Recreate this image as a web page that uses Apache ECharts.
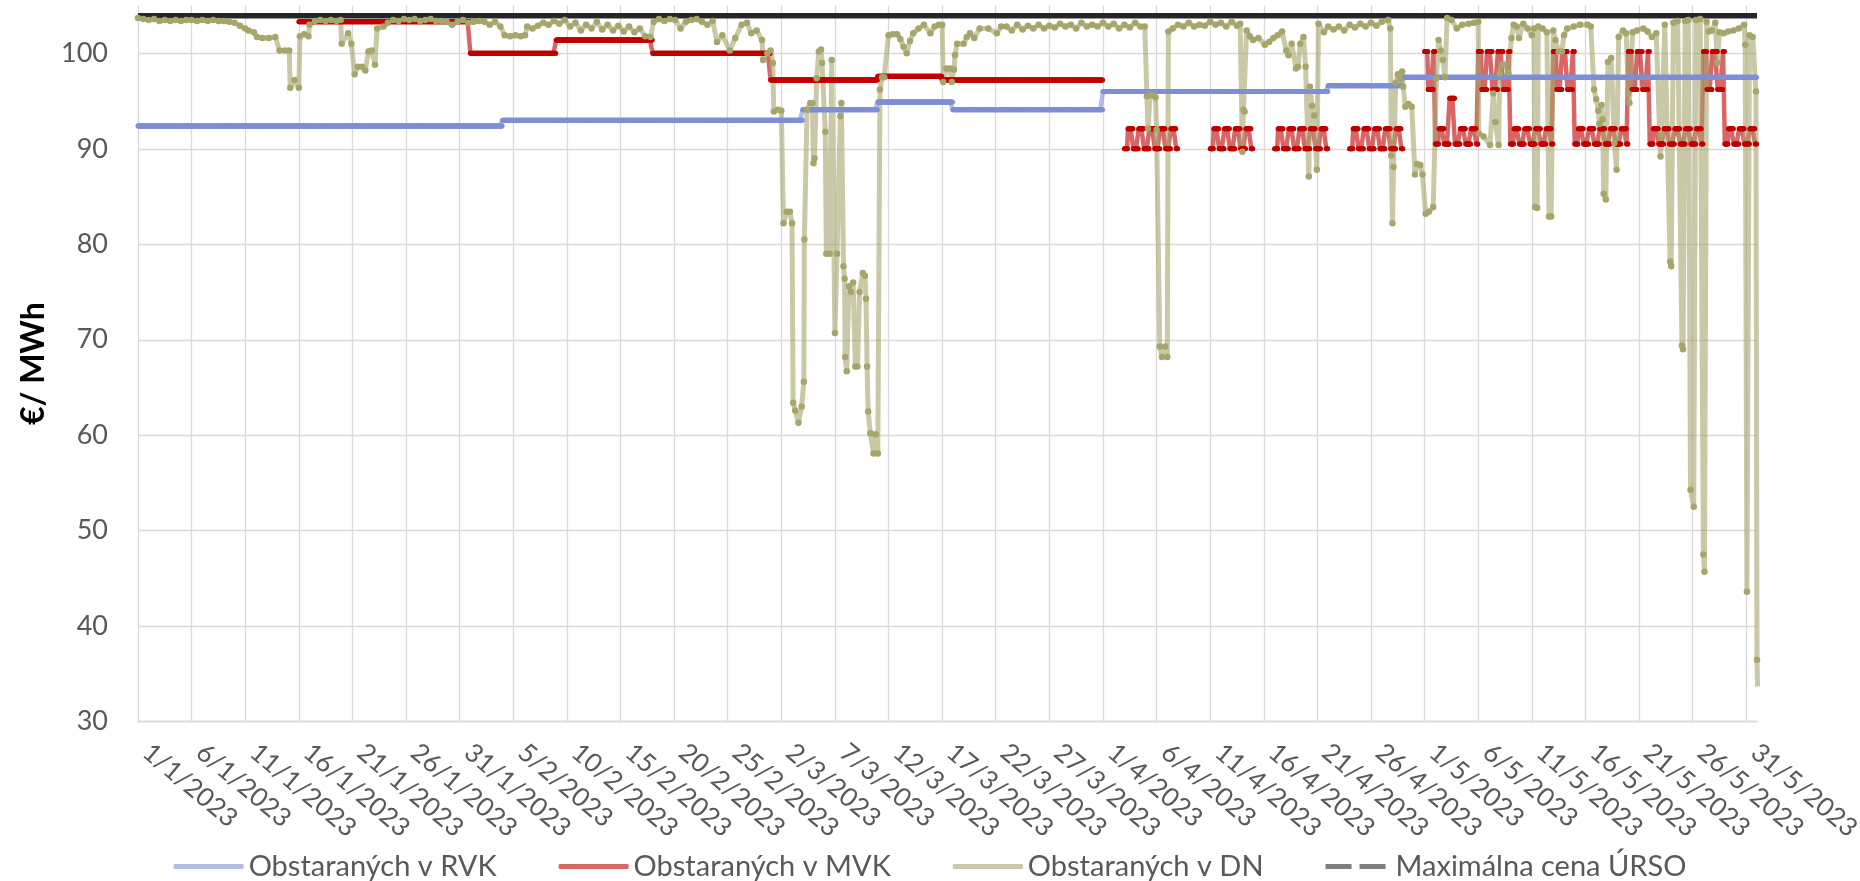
<!DOCTYPE html>
<html>
<head>
<meta charset="utf-8">
<script src="https://cdn.jsdelivr.net/npm/echarts@6/dist/echarts.min.js"></script>
<style>html,body{margin:0;padding:0;background:#fff}#c{width:1860px;height:881px}</style>
</head>
<body>
<div id="c"></div>
<script>
// x values are day offsets from 1/1/2023 (0 = 1/1/2023 00:00)
const tickLabels = ['1/1/2023','6/1/2023','11/1/2023','16/1/2023','21/1/2023','26/1/2023','31/1/2023',
  '5/2/2023','10/2/2023','15/2/2023','20/2/2023','25/2/2023','2/3/2023','7/3/2023','12/3/2023',
  '17/3/2023','22/3/2023','27/3/2023','1/4/2023','6/4/2023','11/4/2023','16/4/2023','21/4/2023',
  '26/4/2023','1/5/2023','6/5/2023','11/5/2023','16/5/2023','21/5/2023','26/5/2023','31/5/2023'];

const seriesNames = ['Obstaraných v RVK','Obstaraných v MVK','Obstaraných v DN','Maximálna cena ÚRSO'];

// RVK: [startDay, endDay, price]
const rvkLevels = [[0,34,92.4],[34,62,93.0],[62,69,94.1],[69,76,94.9],[76,90,94.1],[90,111,96.0],[111,118,96.6],[118,151,97.5]];

// MVK constant levels: [startDay, endDay, price]
const mvkLevels = [[15,31,103.3],[31,39,100.0],[39,48,101.4],[48,59,100.0],[59,69,97.2],[69,75,97.6],[75,90,97.2]];
// MVK daily blocks: [day, price 20-08 h, price 08-20 h]
const mvkDaily = [
  [92,90.0,92.1],[93,90.0,92.1],[94,90.0,92.1],[95,90.0,92.1],[96,90.0,92.1],
  [100,90.0,92.1],[101,90.0,92.1],[102,90.0,92.1],[103,90.0,92.1],
  [106,90.0,92.1],[107,90.0,92.1],[108,90.0,92.1],[109,90.0,92.1],[110,90.0,92.1],
  [113,90.0,92.1],[114,90.0,92.1],[115,90.0,92.1],[116,90.0,92.1],[117,90.0,92.1],
  [120,100.2,96.2],[121,90.5,92.1],[122,90.5,95.3],[123,90.5,92.1],[124,90.5,92.1],
  [125,100.2,96.2],[126,100.2,96.2],[127,100.2,96.2],
  [128,90.5,92.1],[129,90.5,92.1],[130,90.5,92.1],[131,90.5,92.1],
  [132,100.2,96.2],[133,100.2,96.2],
  [134,90.5,92.1],[135,90.5,92.1],[136,90.5,92.1],[137,90.5,92.1],[138,90.5,92.1],
  [139,100.2,96.2],[140,100.2,96.2],
  [141,90.5,92.1],[142,90.5,92.1],[143,90.5,92.1],[144,90.5,92.1],[145,90.5,92.1],
  [146,100.2,96.2],[147,100.2,96.2],
  [148,90.5,92.1],[149,90.5,92.1],[150,90.5,92.1]
];

// DN: [day, price]
const dnJan = [[0,103.7],[0.5,103.6],[1,103.5],[1.5,103.6],[2,103.4],[2.5,103.5],[3,103.4],[3.5,103.5],[4,103.4],[4.5,103.5],[5,103.5],[5.5,103.4],[6,103.5],[6.5,103.4],[7,103.5],[7.5,103.4],[8,103.4],[8.5,103.3],[9,103.2],[9.5,102.9],[10,102.6],[10.3,102.4],[10.8,102.2],[11.1,101.7],[11.6,101.6],[12.2,101.6],[12.8,101.7],[13.2,100.3],[13.7,100.3],[14.1,100.3],[14.2,96.4],[14.6,97.2],[15.0,96.4],[15.1,101.8],[15.5,102.0],[15.9,101.8],[16.0,103.0],[16.5,103.4],[17,103.5],[17.5,103.4],[18,103.5],[18.5,103.4],[18.9,103.5],[19.0,101.0],[19.6,102.1],[19.9,101.0],[20.2,97.8],[20.5,98.6],[20.9,98.6],[21.2,98.2],[21.5,100.2],[21.8,100.3],[22.1,98.8],[22.3,102.6],[22.9,102.8],[23.3,103.2],[23.8,103.5],[24.3,103.4],[24.8,103.6],[25.3,103.5],[25.8,103.6],[26.3,103.4],[26.8,103.5],[27.3,103.6],[27.8,103.4],[28.3,103.4],[28.8,103.3],[29.3,103.0],[29.8,103.3],[30.3,103.5],[30.8,103.2]];
const dnFeb = [[31.3,103.3],[31.8,103.4],[32.3,103.3],[32.8,103.0],[33.3,103.3],[33.8,102.8],[34.2,101.9],[34.7,101.8],[35.2,101.9],[35.7,101.8],[36.1,101.9],[36.3,102.8],[36.8,102.6],[37.3,102.9],[37.8,103.2],[38.3,103.0],[38.8,103.4],[39.3,103.1],[39.8,103.5],[40.3,102.8],[40.8,103.2],[41.3,102.4],[41.8,103.0],[42.3,102.6],[42.8,103.3],[43.3,102.5],[43.8,103.0],[44.3,102.4],[44.8,102.9],[45.3,102.3],[45.8,102.8],[46.3,102.2],[46.8,102.6],[47.3,101.8],[47.8,101.7],[48.1,103.3],[48.6,103.6],[49.1,103.4],[49.6,103.6],[50.1,103.5],[50.6,102.6],[51.1,103.3],[51.6,103.5],[52.1,103.6],[52.6,103.3],[53.1,103.0],[53.6,103.4],[54.0,101.2],[54.5,101.9],[55.2,100.3],[55.7,101.6],[56.3,103.0],[56.8,103.2],[57.2,102.1],[57.7,102.4],[58.2,101.4],[58.3,99.3],[58.7,100.0]];
const dnMar = [[59.0,100.3],[59.2,99.0],[59.3,93.9],[59.7,94.1],[60.0,94.0],[60.2,82.2],[60.5,83.4],[60.8,83.4],[61.0,82.2],[61.1,63.4],[61.3,62.6],[61.6,61.3],[61.9,63.0],[62.1,65.6],[62.15,80.5],[62.4,94.1],[62.7,94.8],[62.9,94.8],[63.0,88.5],[63.1,89.0],[63.3,97.4],[63.5,100.2],[63.7,100.4],[63.8,99.0],[64.1,91.8],[64.2,79.0],[64.5,79.0],[64.7,99.3],[65.0,70.7],[65.2,79.0],[65.5,93.4],[65.6,94.8],[65.8,77.7],[65.9,76.4],[65.95,68.2],[66.1,66.7],[66.3,75.6],[66.5,75.0],[66.7,76.0],[66.9,67.2],[67.1,67.2],[67.3,75.0],[67.6,77.0],[67.8,76.7],[67.9,74.3],[68.0,67.2],[68.1,62.5],[68.3,60.2],[68.6,58.1],[68.8,60.1],[69.0,58.1],[69.2,96.2],[69.4,97.5],[69.6,97.5],[70.0,101.9],[70.4,102.0],[70.8,102.0],[71.1,101.5],[71.4,100.7],[71.7,100.0],[72.0,101.3],[72.3,102.1],[72.8,102.6],[73.3,103.0],[73.9,102.1],[74.3,102.8],[74.7,103.0],[75.0,103.0],[75.1,97.0],[75.4,98.4],[75.7,98.4],[75.9,97.0],[76.1,98.3],[76.2,99.8],[76.4,101.0],[77.0,101.0],[77.3,101.7],[77.6,102.1],[78.0,101.6],[78.5,102.6],[79.3,102.6],[80.1,102.1],[80.5,102.8],[81,102.8],[81.5,102.4],[82,103.0],[82.5,102.5],[83,102.9],[83.5,102.6],[84,103.0],[84.5,102.6],[85,102.9],[85.5,102.7],[86,103.1],[86.5,102.8],[87,103.0],[87.5,102.6],[88,103.2],[88.5,102.8],[89,103.0],[89.5,102.8]];
const dnApr = [[90,103.2],[90.5,102.8],[91,103.1],[91.5,102.6],[92,103.0],[92.5,102.7],[93,103.2],[93.5,102.8],[93.9,102.8],[94.1,95.5],[94.2,92.1],[94.4,95.6],[94.7,95.6],[94.9,95.4],[95.0,92.0],[95.3,69.3],[95.5,68.2],[95.8,69.3],[96.0,68.2],[96.1,102.3],[96.5,102.6],[97,103.0],[97.5,102.8],[98,103.2],[98.5,102.8],[99,103.0],[99.5,102.9],[100,103.3],[100.5,103.0],[101,103.2],[101.5,102.8],[102,103.3],[102.5,102.9],[102.8,103.1],[103.0,89.7],[103.1,94.1],[103.2,93.9],[103.4,102.4],[103.7,101.8],[104.0,101.4],[104.5,101.6],[105.1,100.9],[105.5,101.2],[105.9,101.6],[106.3,101.9],[106.7,102.3],[107.1,100.3],[107.3,99.8],[107.6,101.0],[108.0,98.4],[108.2,98.6],[108.4,101.0],[108.7,101.7],[108.9,98.6],[109.2,87.1],[109.3,96.5],[109.5,94.5],[109.7,93.5],[109.95,87.8],[110.1,103.1],[110.6,102.2],[111,102.8],[111.5,102.5],[112,102.8],[112.5,102.4],[113,103.0],[113.5,102.7],[114,103.1],[114.5,102.8],[115,103.2],[115.5,102.9],[116,103.3],[116.6,103.5],[116.8,102.6],[116.9,89.3],[117.0,82.2],[117.1,88.1],[117.3,96.9],[117.5,97.8],[117.7,97.3],[117.9,98.1],[118.0,96.5],[118.2,94.4],[118.5,94.7],[118.8,94.4],[119.1,87.3],[119.3,88.4],[119.6,88.3],[119.8,87.3]];
const dnMay = [[120.1,83.2],[120.4,83.4],[120.8,83.9],[121.1,97.4],[121.3,101.4],[121.5,100.3],[121.7,99.3],[121.9,97.5],[122.1,103.7],[122.5,103.5],[123.0,102.6],[123.5,103.0],[124.1,103.1],[124.6,103.2],[125.0,103.3],[125.05,91.6],[125.5,91.3],[126.1,90.4],[126.4,95.8],[126.6,92.8],[126.9,90.4],[127.0,97.9],[127.2,98.8],[127.5,98.8],[127.8,98.0],[128.1,101.6],[128.3,103.0],[128.6,102.8],[128.8,101.6],[129.2,103.1],[129.6,102.6],[130.0,101.9],[130.2,102.6],[130.3,83.9],[130.5,83.8],[130.6,102.8],[131.0,102.6],[131.4,102.2],[131.6,82.9],[131.8,82.9],[132.0,102.4],[132.2,101.4],[132.5,100.2],[132.8,100.2],[133.0,101.9],[133.3,102.6],[133.9,102.8],[134.5,103.0],[135.2,103.0],[135.5,102.8],[135.8,96.2],[136.0,95.2],[136.2,94.0],[136.3,92.6],[136.5,94.6],[136.6,93.1],[136.7,85.3],[136.9,84.7],[137.1,99.1],[137.4,99.5],[137.7,90.6],[137.9,87.8],[138.1,101.7],[138.5,102.4],[138.8,102.1],[139.0,95.8],[139.1,94.8],[139.4,102.2],[139.8,102.4],[140.4,102.6],[140.8,102.3],[141.2,101.7],[141.6,102.1],[142.0,89.2],[142.1,91.5],[142.4,103.0],[142.9,78.2],[143.0,77.7],[143.2,103.2],[143.6,103.4],[144.0,69.4],[144.1,69.0],[144.3,103.4],[144.6,103.5],[144.8,54.3],[145.1,52.5],[145.3,103.5],[145.7,103.6],[146.0,47.5],[146.1,45.7],[146.3,103.3],[146.5,102.3],[146.8,102.4],[147.1,103.2],[147.3,99.0],[147.5,102.2],[147.9,102.1],[148.3,102.3],[148.8,102.4],[149.3,102.6],[149.8,103.0],[149.9,100.9],[150.06,43.6],[150.3,101.9],[150.6,101.7],[150.9,96.0],[151.0,36.5],[151.05,33.7]];

// ÚRSO maximum price
const ursoLevels = [[0,151,103.94]];

// ---- build hourly points from the read values ----
const H = 1 / 24;
function fromLevels(levels) {
  const out = [];
  levels.forEach(([s, e, v]) => { for (let t = s; t < e - 1e-9; t += H) out.push([t, v]); });
  return out;
}
function fromDaily(days) {
  const out = [];
  days.forEach(([d, off, peak]) => { for (let h = 0; h < 24; h++) out.push([d + h * H, (h >= 8 && h < 20) ? peak : off]); });
  return out;
}
function withBreaks(points) {
  const out = [];
  for (let i = 0; i < points.length; i++) {
    if (i > 0 && points[i][0] - points[i - 1][0] > 0.2) out.push([points[i - 1][0] + H, '-']);
    out.push(points[i]);
  }
  return out;
}

const rvkData = fromLevels(rvkLevels);
const mvkData = withBreaks(fromLevels(mvkLevels).concat(fromDaily(mvkDaily)));
const dnData = dnJan.concat(dnFeb, dnMar, dnApr, dnMay);
const ursoData = ursoLevels.flatMap(([s, e, v]) => [[s, v], [e, v]]);

const FONT = 'Lato, "Liberation Sans", sans-serif';
const chart = echarts.init(document.getElementById('c'), null, { renderer: 'canvas' });

chart.setOption({
  animation: false,
  backgroundColor: '#ffffff',
  grid: { left: 138, right: 103, top: 5.6, bottom: 159.3, containLabel: false, outerBoundsMode: 'none' },
  xAxis: {
    type: 'value', min: 0, max: 151, interval: 5,
    axisLine: { show: true, lineStyle: { color: '#d9d9d9', width: 1.3 } },
    axisTick: { show: false },
    splitLine: { show: true, showMinLine: true, showMaxLine: false, lineStyle: { color: '#d9d9d9', width: 1.3 } },
    axisLabel: {
      rotate: -40, margin: 37, verticalAlign: 'bottom', showMaxLabel: false, hideOverlap: false,
      color: '#595959', fontSize: 26, fontFamily: FONT,
      formatter: v => (Math.abs(v / 5 - Math.round(v / 5)) < 1e-6 && tickLabels[Math.round(v / 5)]) || ''
    }
  },
  yAxis: {
    type: 'value', min: 30, max: 105, interval: 10,
    name: '€/ MWh', nameLocation: 'middle', nameRotate: 90, nameGap: 84,
    nameTextStyle: { fontSize: 32, fontWeight: 'bold', color: '#000000', fontFamily: FONT },
    axisLine: { show: false }, axisTick: { show: false },
    splitLine: { show: true, showMaxLine: false, lineStyle: { color: '#d9d9d9', width: 1.3 } },
    axisLabel: {
      margin: 30, showMaxLabel: false, color: '#595959', fontSize: 27, fontFamily: FONT,
      formatter: v => (v % 10 === 0 ? String(v) : '')
    }
  },
  legend: {
    left: 'center', top: 847, itemWidth: 70, itemHeight: 5, itemGap: 62,
    textStyle: { fontSize: 29, color: '#595959', fontFamily: FONT },
    itemStyle: { borderWidth: 0 },
    data: [
      { name: seriesNames[0], icon: 'roundRect', itemStyle: { color: 'rgba(127,143,212,0.6)' } },
      { name: seriesNames[1], icon: 'roundRect', itemStyle: { color: 'rgba(192,0,0,0.6)' } },
      { name: seriesNames[2], icon: 'roundRect', itemStyle: { color: 'rgba(165,165,108,0.6)' } },
      { name: seriesNames[3], icon: 'path://M0,0H26V5H0Z M34,0H60V5H34Z', itemStyle: { color: '#7f7f7f' } }
    ]
  },
  series: [
    {
      name: seriesNames[0], type: 'line', data: rvkData, showAllSymbol: true,
      symbol: 'circle', symbolSize: 5, color: '#7f8fd4',
      itemStyle: { color: '#7f8fd4', borderWidth: 0 },
      lineStyle: { color: 'rgba(127,143,212,0.6)', width: 4.5 }
    },
    {
      name: seriesNames[1], type: 'line', data: mvkData, showAllSymbol: true, connectNulls: false,
      symbol: 'circle', symbolSize: 5, color: '#c00000',
      itemStyle: { color: '#c00000', borderWidth: 0 },
      lineStyle: { color: 'rgba(192,0,0,0.6)', width: 4.5 }
    },
    {
      name: seriesNames[2], type: 'line', data: dnData, showAllSymbol: true,
      symbol: 'circle', symbolSize: 6.5, color: '#a5a56c',
      itemStyle: { color: '#a5a56c', borderWidth: 0 },
      lineStyle: { color: 'rgba(165,165,108,0.6)', width: 5 }
    },
    {
      name: seriesNames[3], type: 'line', data: ursoData, symbol: 'none', color: '#262626',
      lineStyle: { color: '#262626', width: 5.5 }
    }
  ]
});
</script>
</body>
</html>
